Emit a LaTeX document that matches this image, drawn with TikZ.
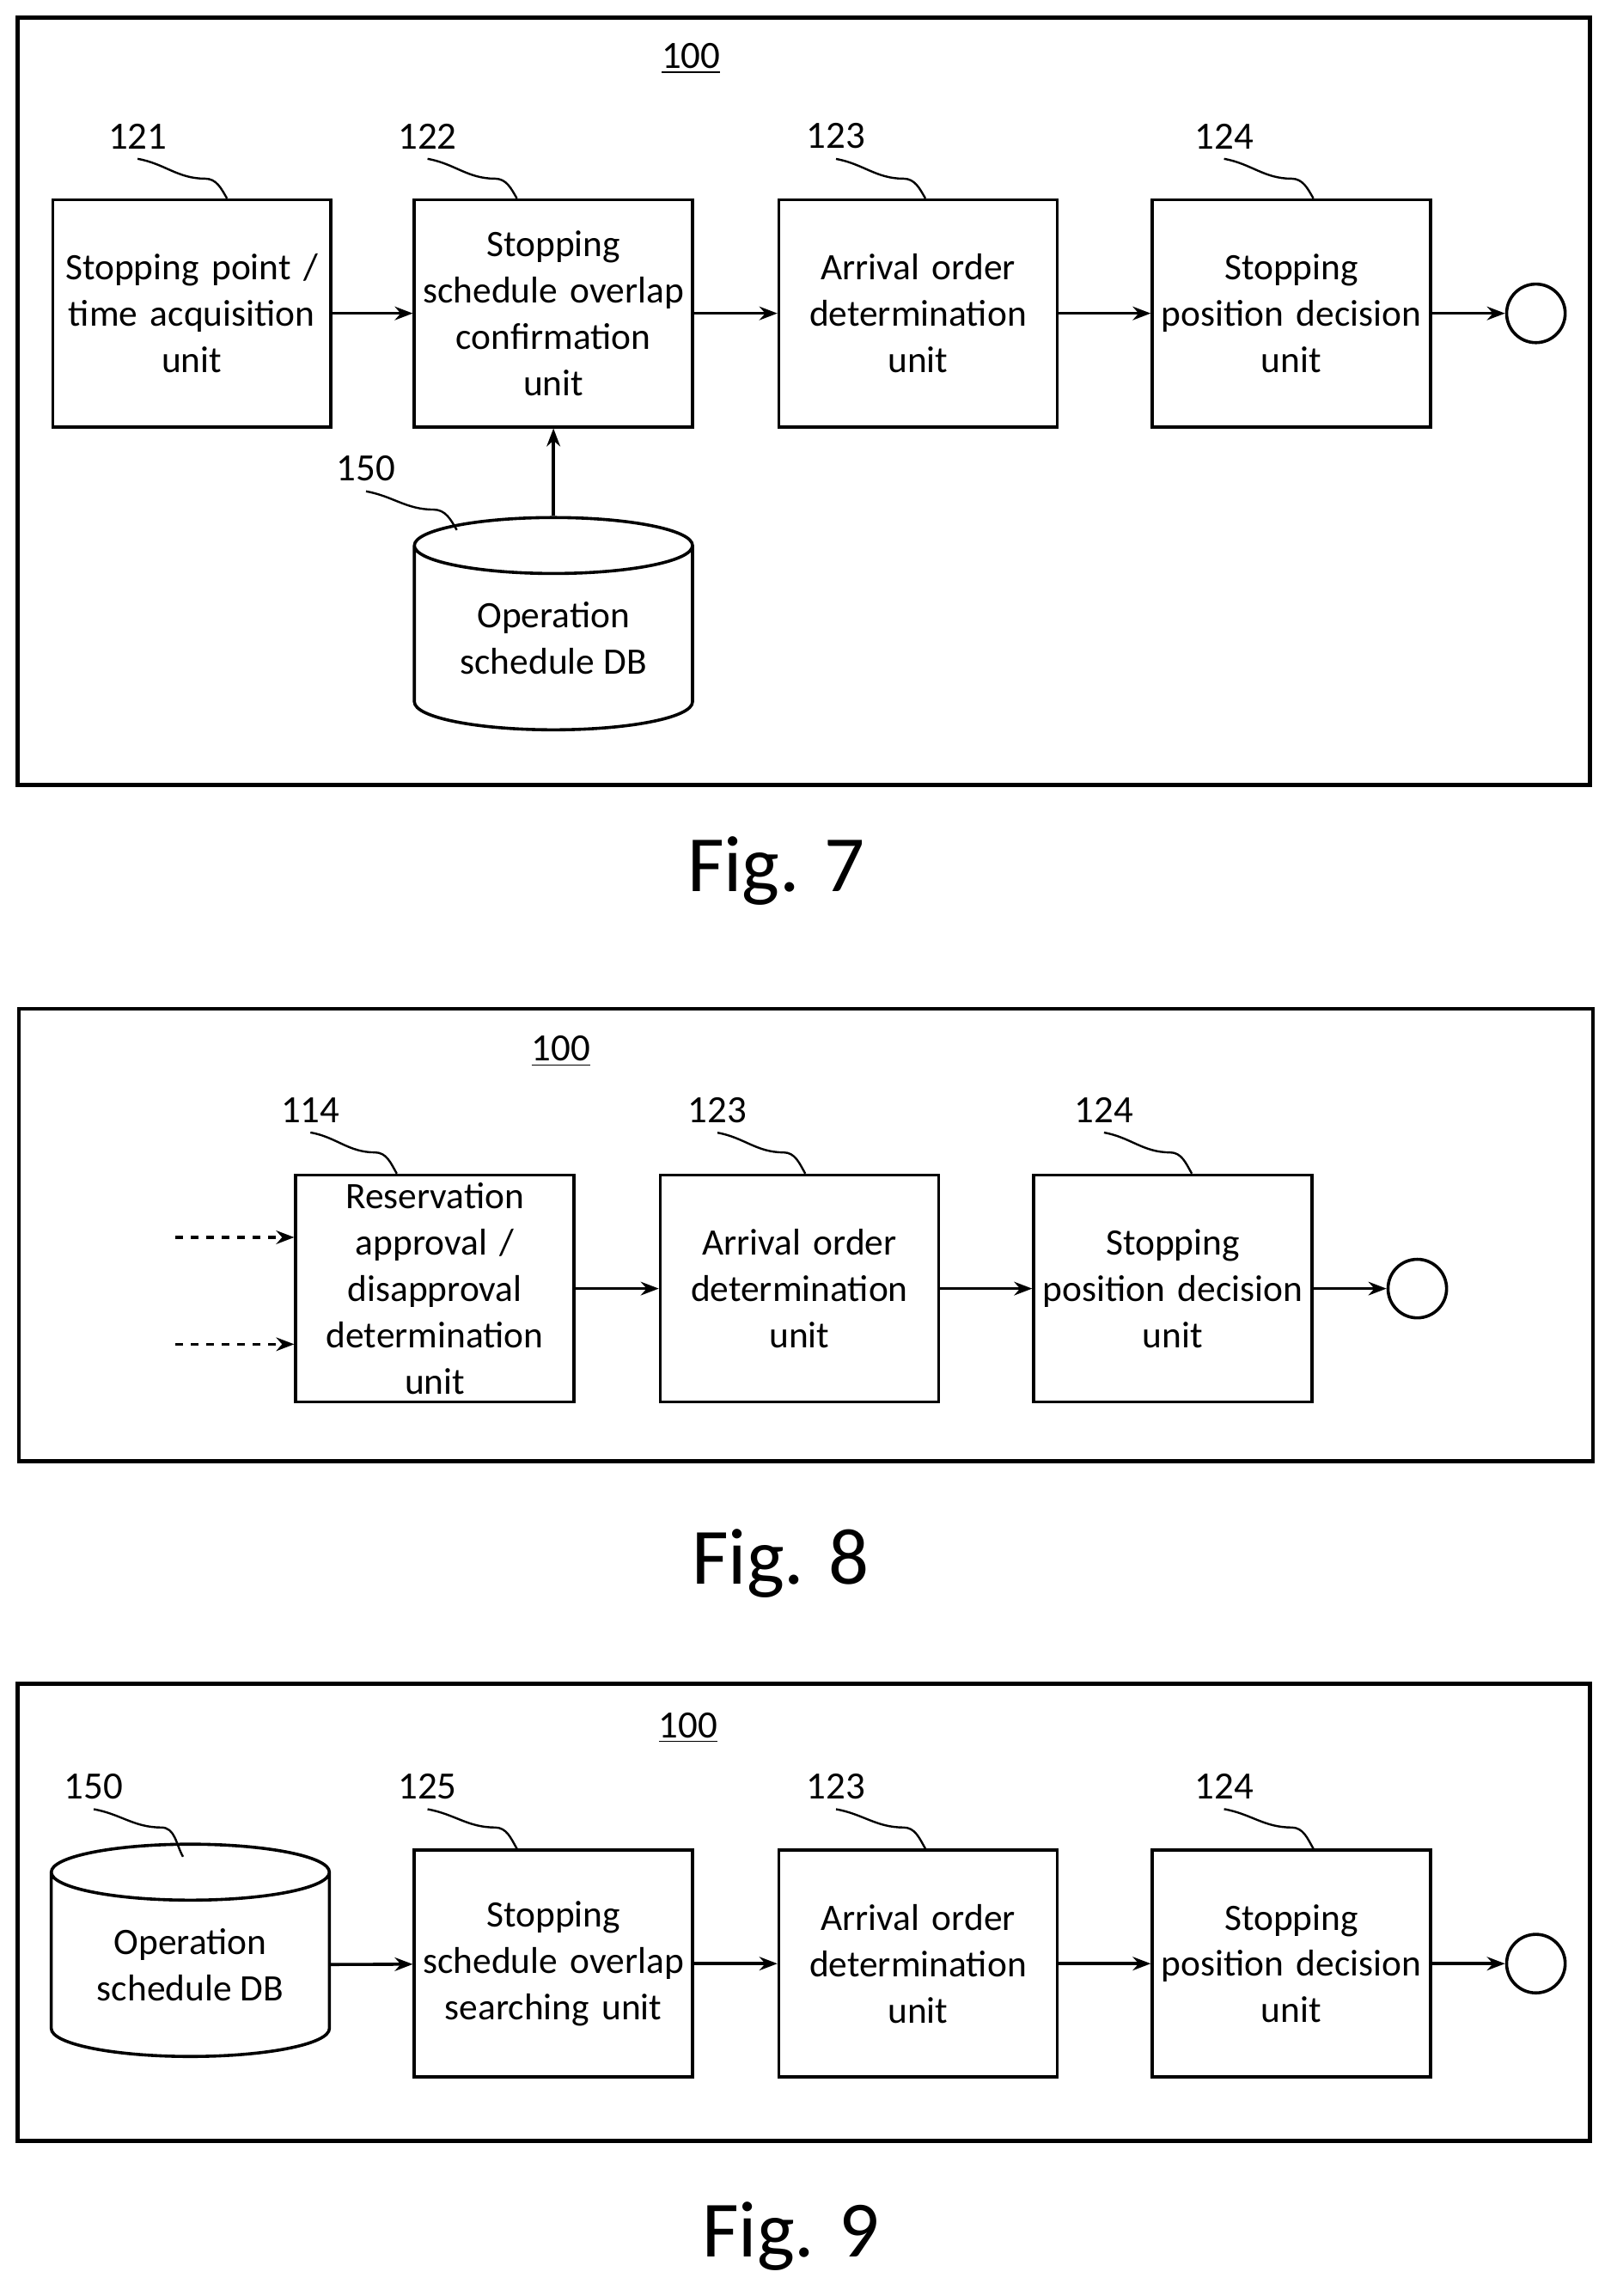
\documentclass[tikz,border=0pt]{standalone}
\usepackage{fontspec}
\setmainfont{Carlito}
\usetikzlibrary{shapes.geometric,arrows.meta}

\begin{document}
\begin{tikzpicture}[x=0.02cm,y=-0.02cm,line width=1.2pt,>={Stealth[length=7pt]}]
\tikzset{unit/.style={rectangle, draw, minimum width=3.8cm, minimum height=3.1cm, text width=3.8cm, align=center, inner sep=0pt, font=\fontsize{14.5}{18}\selectfont},
  db/.style={cylinder, draw, shape border rotate=90, aspect=0.3, minimum width=3.8cm, minimum height=2.9cm, align=center, inner sep=0pt, font=\fontsize{14.5}{18}\selectfont},
  frame/.style={draw, line width=1.5pt},
  ref/.style={font=\fontsize{15}{17}\selectfont},
  endpt/.style={circle, draw, minimum size=0.8cm, inner sep=0pt},
  fig/.style={font=\fontsize{31}{33}\selectfont}}
\useasboundingbox (0,0) rectangle (1100,1568);

% Fig. 7
\draw[frame] (12,12) rectangle (1086,536);
\node[ref] (n100a) at (472,40) {\underline{100}};
\node[unit] (u121) at (131,214) {Stopping point /\\time acquisition\\unit};
\node[unit] (u122) at (378,214) {Stopping\\schedule overlap\\confirmation\\unit};
\node[unit] (u123a) at (627,214) {Arrival order\\determination\\unit};
\node[unit] (u124a) at (882,214) {Stopping\\position decision\\unit};
\node[endpt] (outa) at (1049,214) {};
\node[db] (db150a) at (378,436) {Operation\\schedule DB};
\draw[->] (u121) -- (u122);
\draw[->] (u122) -- (u123a);
\draw[->] (u123a) -- (u124a);
\draw[->] (u124a) -- (outa);
\draw[->] (db150a.top) -- (u122.south);
\node[ref] (l121) at (94,93) {121};
\node[ref] (l122) at (292,93) {122};
\node[ref] (l123a) at (571,93) {123};
\node[ref] (l124a) at (836,93) {124};
\node[ref] (l150a) at (250,320) {150};
\draw[line width=0.8pt] (l121.south) to[out=-10,in=180] (140,122) to[out=0,in=120] (u121.north -| 155,0);
\draw[line width=0.8pt] (l122.south) to[out=-10,in=180] (338,122) to[out=0,in=120] (u122.north -| 353,0);
\draw[line width=0.8pt] (l123a.south) to[out=-10,in=180] (617,122) to[out=0,in=120] (u123a.north -| 632,0);
\draw[line width=0.8pt] (l124a.south) to[out=-10,in=180] (882,122) to[out=0,in=120] (u124a.north -| 897,0);
\draw[line width=0.8pt] (l150a.south) to[out=-10,in=180] (296,348) to[out=0,in=120] (312,362);
\node[fig] (f7) at (530,595) {Fig. 7};

% Fig. 8
\draw[frame] (13,689) rectangle (1088,998);
\node[ref] (n100b) at (383,718) {\underline{100}};
\node[unit] (u114) at (297,880) {Reservation\\approval /\\disapproval\\determination\\unit};
\node[unit] (u123b) at (546,880) {Arrival order\\determination\\unit};
\node[unit] (u124b) at (801,880) {Stopping\\position decision\\unit};
\node[endpt] (outb) at (968,880) {};
\coordinate (ina) at (120,845);
\coordinate (inb) at (120,918);
\draw[->,dashed] (ina) -- (ina -| u114.west);
\draw[->,dashed] (inb) -- (inb -| u114.west);
\draw[->] (u114) -- (u123b);
\draw[->] (u123b) -- (u124b);
\draw[->] (u124b) -- (outb);
\node[ref] (l114) at (212,758) {114};
\node[ref] (l123b) at (490,758) {123};
\node[ref] (l124b) at (754,758) {124};
\draw[line width=0.8pt] (l114.south) to[out=-10,in=180] (256,787) to[out=0,in=120] (u114.north -| 271,0);
\draw[line width=0.8pt] (l123b.south) to[out=-10,in=180] (535,787) to[out=0,in=120] (u123b.north -| 550,0);
\draw[line width=0.8pt] (l124b.south) to[out=-10,in=180] (799,787) to[out=0,in=120] (u124b.north -| 814,0);
\node[fig] (f8) at (533,1068) {Fig. 8};

% Fig. 9
\draw[frame] (12,1150) rectangle (1086,1462);
\node[ref] (n100c) at (470,1180) {\underline{100}};
\node[db] (db150b) at (130,1342) {Operation\\schedule DB};
\node[unit] (u125) at (378,1341) {Stopping\\schedule overlap\\searching unit};
\node[unit] (u123c) at (627,1341) {Arrival order\\determination\\unit};
\node[unit] (u124c) at (882,1341) {Stopping\\position decision\\unit};
\node[endpt] (outc) at (1049,1341) {};
\draw[->] (db150b) -- (u125);
\draw[->] (u125) -- (u123c);
\draw[->] (u123c) -- (u124c);
\draw[->] (u124c) -- (outc);
\node[ref] (l150b) at (64,1220) {150};
\node[ref] (l125) at (292,1220) {125};
\node[ref] (l123c) at (571,1220) {123};
\node[ref] (l124c) at (836,1220) {124};
\draw[line width=0.8pt] (l150b.south) to[out=-10,in=180] (110,1248) to[out=0,in=120] (125,1268);
\draw[line width=0.8pt] (l125.south) to[out=-10,in=180] (338,1248) to[out=0,in=120] (u125.north -| 353,0);
\draw[line width=0.8pt] (l123c.south) to[out=-10,in=180] (617,1248) to[out=0,in=120] (u123c.north -| 632,0);
\draw[line width=0.8pt] (l124c.south) to[out=-10,in=180] (882,1248) to[out=0,in=120] (u124c.north -| 897,0);
\node[fig] (f9) at (540,1527) {Fig. 9};
\end{tikzpicture}
\end{document}
